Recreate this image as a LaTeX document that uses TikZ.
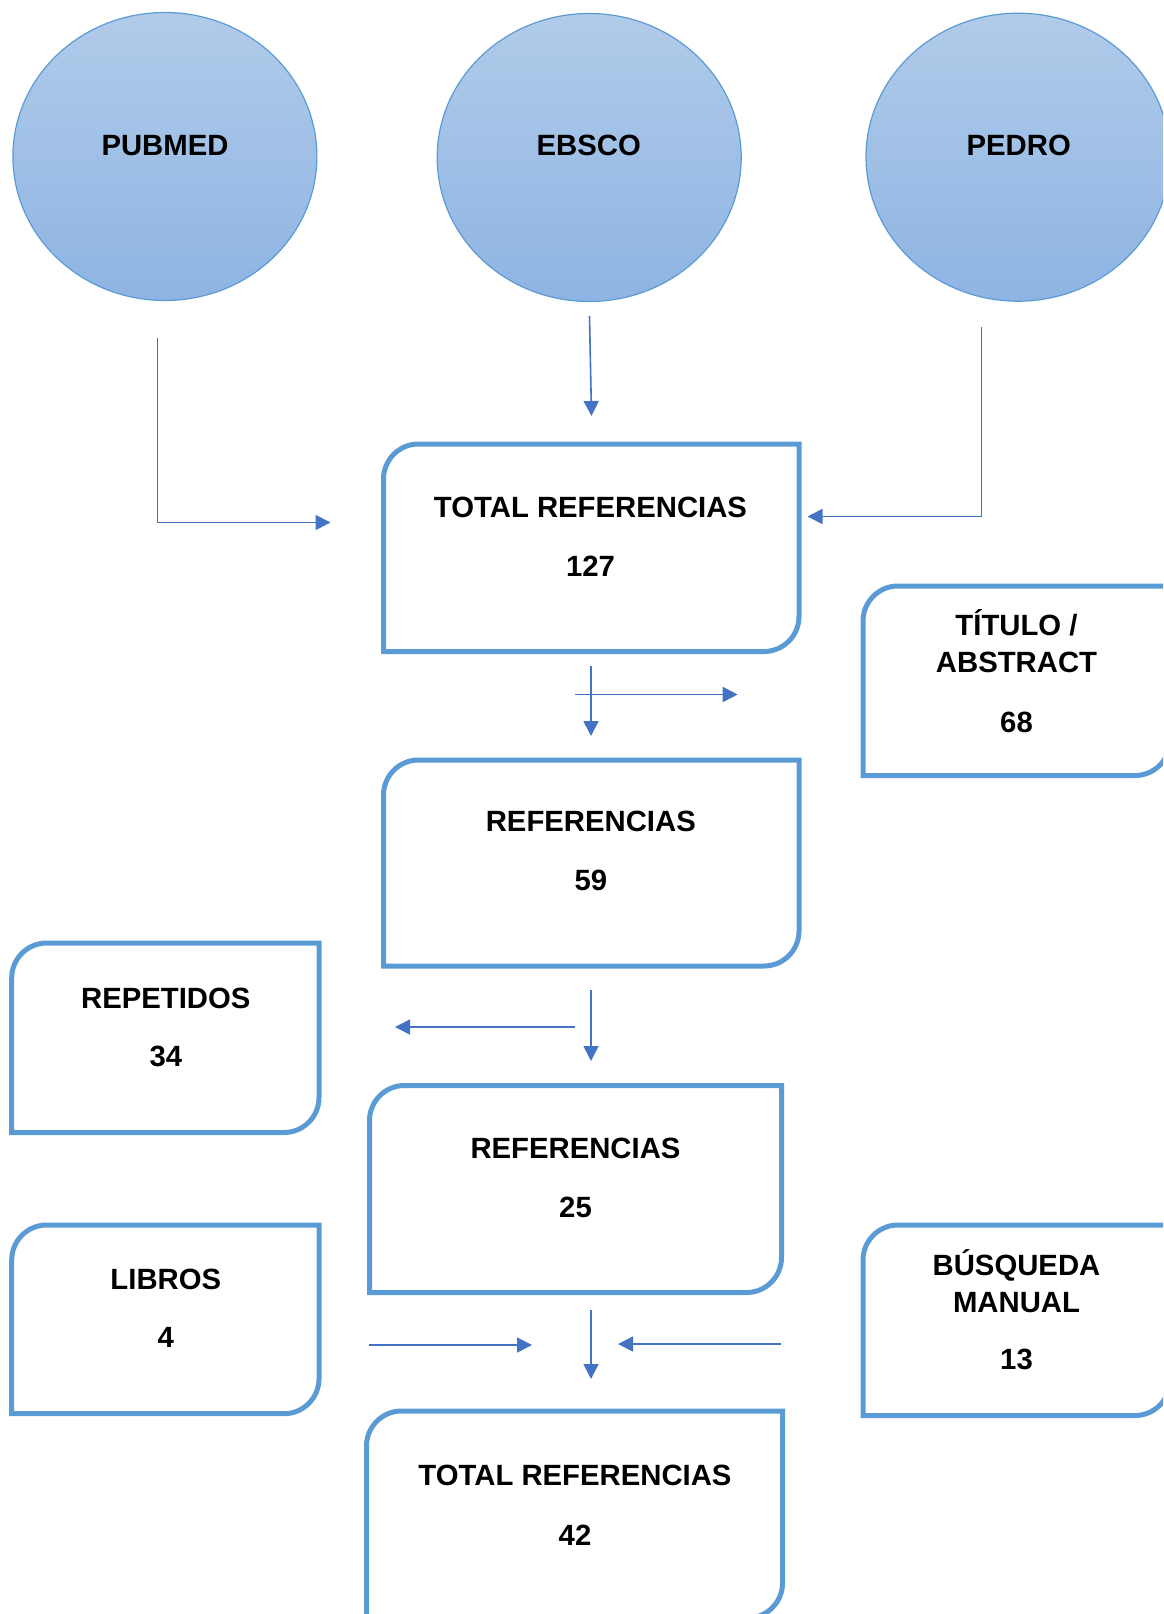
\documentclass[tikz,border=0pt]{standalone}
\usepackage{fontspec}
\setmainfont{Liberation Sans}
\usetikzlibrary{arrows.meta,shapes.geometric}
\definecolor{boxblue}{HTML}{5B9BD5}
\definecolor{arrblue}{HTML}{4472C4}
\definecolor{circtop}{RGB}{177,203,233}
\definecolor{circbot}{RGB}{142,180,227}
\newcommand\lbfont{\bfseries\fontsize{29.3}{35}\selectfont}
\newcommand\boxoutline[1]{\draw[boxline] (#1.north east) -- ([xshift=35pt]#1.north west) arc[start angle=90,end angle=180,radius=35pt] -- (#1.south west) -- ([xshift=-35pt]#1.south east) arc[start angle=-90,end angle=0,radius=35pt] -- cycle;}
\tikzset{
  dbnode/.style={ellipse, draw=boxblue, line width=1.2pt, top color=circtop, bottom color=circbot, minimum width=304pt, minimum height=288pt, inner sep=0pt},
  flowbox/.style={rectangle, inner sep=0pt, outer sep=0pt},
  boxline/.style={draw=boxblue, line width=5pt},
  lbl/.style={font=\lbfont, anchor=base, inner sep=0pt, text=black},
  conn/.style={draw=arrblue, line width=1.6pt, -{Triangle[length=15pt,width=15pt]}},
}
\begin{document}
\begin{tikzpicture}[x=1pt,y=-1pt]
\useasboundingbox (0,0) rectangle (1163,1614);
\clip (0,0) rectangle (1163,1614);
% databases
\node[dbnode] (pubmed) at (164.9,156.5) {};
\node[dbnode] (ebsco) at (589.2,157.5) {};
\node[dbnode] (pedro) at (1018,157.2) {};
\node[lbl] (tpub) at (165,155.5) {PUBMED};
\node[lbl] (tebs) at (588.7,155.5) {EBSCO};
\node[lbl] (tped) at (1018.7,155.5) {PEDRO};
% boxes
\node[flowbox, minimum width=415.5pt, minimum height=207.5pt] (b127) at (591.25,547.75) {};
\node[flowbox, minimum width=415.5pt, minimum height=206pt] (b59) at (591.25,863) {};
\node[flowbox, minimum width=412pt, minimum height=207pt] (b25) at (575.5,1189) {};
\node[flowbox, minimum width=416pt, minimum height=207pt] (b42) at (574.5,1514.5) {};
\node[flowbox, minimum width=307pt, minimum height=189.5pt] (btit) at (1016.5,680.75) {};
\node[flowbox, minimum width=307.3pt, minimum height=189.5pt] (brep) at (165.35,1037.75) {};
\node[flowbox, minimum width=307.3pt, minimum height=188.7pt] (blib) at (165.35,1319.35) {};
\node[flowbox, minimum width=307pt, minimum height=190.5pt] (bbus) at (1016.5,1320.25) {};
\boxoutline{b127}
\boxoutline{b59}
\boxoutline{b25}
\boxoutline{b42}
\boxoutline{btit}
\boxoutline{brep}
\boxoutline{blib}
\boxoutline{bbus}
% texts
\node[lbl] (t127a) at (590.5,517.5) {TOTAL REFERENCIAS};
\node[lbl] (t127b) at (590.5,576.2) {127};
\node[lbl] (ttita) at (1016.5,635.5) {TÍTULO /};
\node[lbl] (ttitb) at (1016.5,672.2) {ABSTRACT};
\node[lbl] (ttitc) at (1016.5,732.2) {68};
\node[lbl] (t59a) at (590.8,831.8) {REFERENCIAS};
\node[lbl] (t59b) at (590.8,890.5) {59};
\node[lbl] (trepa) at (165.8,1008.8) {REPETIDOS};
\node[lbl] (trepb) at (165.8,1066.5) {34};
\node[lbl] (t25a) at (575.5,1158.5) {REFERENCIAS};
\node[lbl] (t25b) at (575.5,1217.2) {25};
\node[lbl] (tliba) at (165.8,1289.5) {LIBROS};
\node[lbl] (tlibb) at (165.8,1347.5) {4};
\node[lbl] (tbusa) at (1016.5,1275.5) {BÚSQUEDA};
\node[lbl] (tbusb) at (1016.5,1312.2) {MANUAL};
\node[lbl] (tbusc) at (1016.5,1369.5) {13};
\node[lbl] (t42a) at (575,1485.5) {TOTAL REFERENCIAS};
\node[lbl] (t42b) at (575,1545.5) {42};
% connector end points
\coordinate (pubS) at (157.5,338);
\coordinate (pubT) at (330.5,522.5);
\coordinate (ebsS) at (589.5,316);
\coordinate (ebsT) at (591.5,416);
\coordinate (pedS) at (981.5,327);
\coordinate (pedT) at (807.5,516.5);
\coordinate (a4S) at (591,666);
\coordinate (a4T) at (591,736);
\coordinate (a5S) at (575,694.5);
\coordinate (a5T) at (737.7,694.5);
\coordinate (a6S) at (591,990);
\coordinate (a6T) at (591,1061);
\coordinate (a7S) at (575,1027);
\coordinate (a7T) at (395,1027);
\coordinate (a8S) at (369,1345);
\coordinate (a8T) at (532,1345);
\coordinate (a9S) at (780.6,1344);
\coordinate (a9T) at (618,1344);
\coordinate (a10S) at (591,1310);
\coordinate (a10T) at (591,1379);
% connectors
\draw[conn] (pubS) |- (pubT);
\draw[conn] (ebsS) -- (ebsT);
\draw[conn] (pedS) |- (pedT);
\draw[conn] (a4S) -- (a4T);
\draw[conn] (a5S) -- (a5T);
\draw[conn] (a6S) -- (a6T);
\draw[conn] (a7S) -- (a7T);
\draw[conn] (a8S) -- (a8T);
\draw[conn] (a9S) -- (a9T);
\draw[conn] (a10S) -- (a10T);
\end{tikzpicture}
\end{document}
